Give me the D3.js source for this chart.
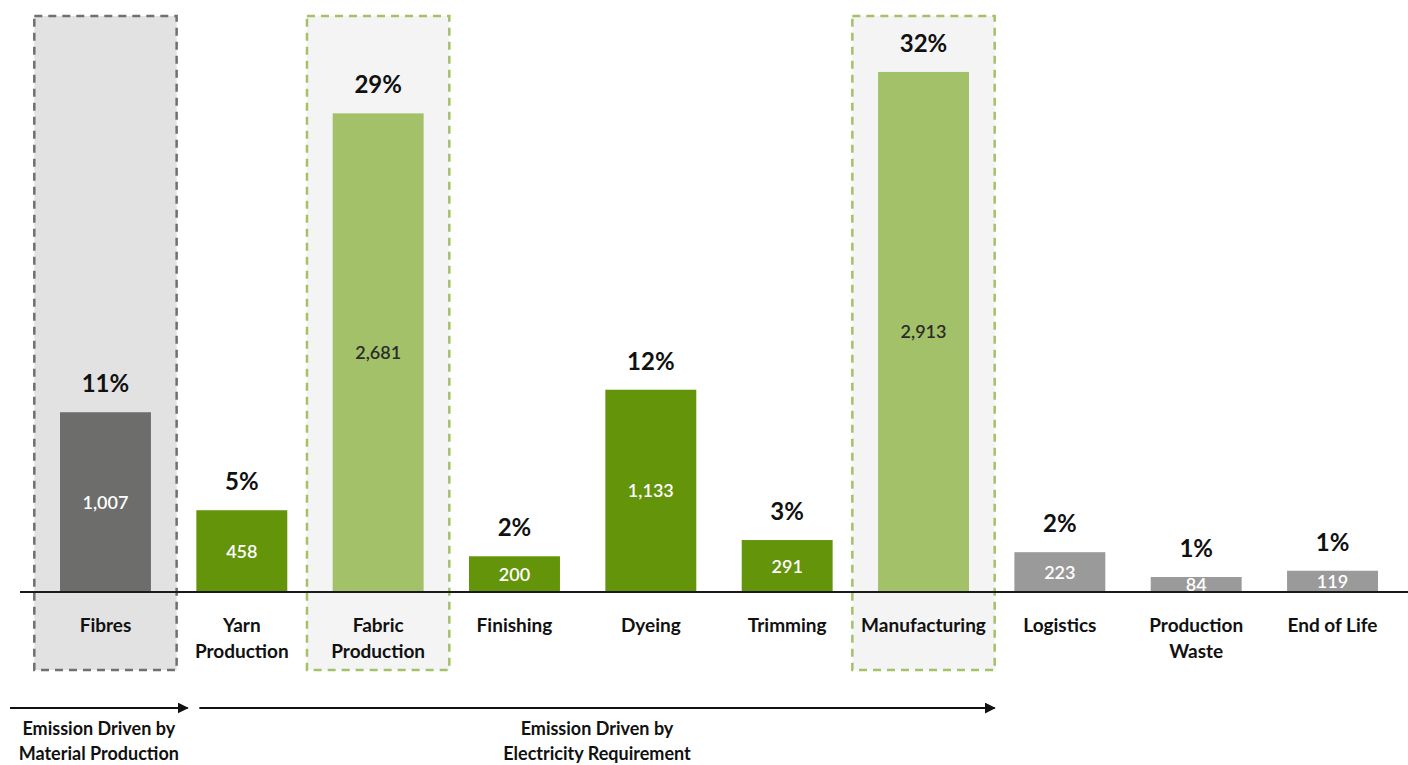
<!DOCTYPE html>
<html>
<head>
<meta charset="utf-8">
<script src="https://cdn.jsdelivr.net/npm/d3@7/dist/d3.min.js"></script>
<style>
  html, body { margin: 0; padding: 0; background: #ffffff; }
  svg { display: block; }
  text { font-family: "Lato", "Open Sans", sans-serif; }
</style>
</head>
<body>
<svg id="chart" width="1408" height="765"></svg>
<script>
// Lifecycle stages and their emissions
const categories = ["Fibres", "Yarn Production", "Fabric Production", "Finishing", "Dyeing",
                    "Trimming", "Manufacturing", "Logistics", "Production Waste", "End of Life"];
const labelLines = [["Fibres"], ["Yarn", "Production"], ["Fabric", "Production"], ["Finishing"], ["Dyeing"],
                    ["Trimming"], ["Manufacturing"], ["Logistics"], ["Production", "Waste"], ["End of Life"]];
const values = [1007, 458, 2681, 200, 1133, 291, 2913, 223, 84, 119];
const groups = ["material", "electric", "highlight", "electric", "electric",
                "electric", "highlight", "other", "other", "other"];
// Stages framed by a dashed box
const boxed = ["Fibres", "Fabric Production", "Manufacturing"];
// Driver brackets along the bottom
const drivers = [
  { from: "Fibres", to: "Fibres", lines: ["Emission Driven by", "Material Production"] },
  { from: "Yarn Production", to: "Manufacturing", lines: ["Emission Driven by", "Electricity Requirement"] }
];

const fillFor = { material: "#6d6d6b", electric: "#63940a", highlight: "#a3c168", other: "#9a9a9a" };
const valueColor = { material: "#ffffff", electric: "#ffffff", highlight: "#2b2b2b", other: "#ffffff" };

const svg = d3.select("#chart");
const baseY = 592;

const x = d3.scaleBand().domain(categories).range([60, 1378]).paddingInner(0.333).paddingOuter(0);
const y = d3.scaleLinear().domain([0, 3316]).range([baseY, 0]);
const total = d3.sum(values);
const step = x.step(), bw = x.bandwidth();
const gap = (step - bw) / 2;

const data = categories.map((c, i) => ({ c, v: values[i], g: groups[i], lines: labelLines[i] }));

// Highlight boxes
const boxG = svg.append("g");
boxed.forEach(c => {
  const isMat = c === "Fibres";
  boxG.append("rect")
    .attr("x", x(c) - gap - 3)
    .attr("y", 16)
    .attr("width", step + 6)
    .attr("height", 654)
    .attr("fill", isMat ? "#e2e2e2" : "#f4f4f4")
    .attr("stroke", isMat ? "#707070" : "#a3c168")
    .attr("stroke-width", 2.5)
    .attr("stroke-dasharray", "8,6");
});

// Bars
svg.append("g").selectAll("rect").data(data).join("rect")
  .attr("x", d => x(d.c))
  .attr("y", d => y(d.v))
  .attr("width", bw)
  .attr("height", d => baseY - y(d.v))
  .attr("fill", d => fillFor[d.g]);

// Value labels inside bars
svg.append("g").selectAll("text").data(data).join("text")
  .attr("x", d => x(d.c) + bw / 2)
  .attr("y", d => (y(d.v) + baseY) / 2)
  .attr("dy", "0.36em")
  .attr("text-anchor", "middle")
  .attr("font-size", 18)
  .attr("font-weight", 600)
  .attr("fill", d => valueColor[d.g])
  .text(d => d3.format(",")(d.v));

// Share labels above bars
svg.append("g").selectAll("text").data(data).join("text")
  .attr("x", d => x(d.c) + bw / 2)
  .attr("y", d => y(d.v) - 20)
  .attr("text-anchor", "middle")
  .attr("font-size", 24)
  .attr("font-weight", 700)
  .attr("fill", "#111")
  .text(d => Math.round(d.v / total * 100) + "%");

// Baseline
svg.append("line")
  .attr("x1", 20).attr("x2", 1408)
  .attr("y1", baseY).attr("y2", baseY)
  .attr("stroke", "#1a1a1a").attr("stroke-width", 2);

// Category labels
const catG = svg.append("g").selectAll("text").data(data).join("text")
  .attr("x", d => x(d.c) + bw / 2)
  .attr("y", 632)
  .attr("text-anchor", "middle")
  .attr("font-size", 19)
  .attr("font-weight", 700)
  .attr("fill", "#111");
catG.selectAll("tspan").data(d => d.lines.map(l => ({ l, x: x(d.c) + bw / 2 }))).join("tspan")
  .attr("x", t => t.x)
  .attr("dy", (t, i) => i === 0 ? 0 : 26)
  .text(t => t.l);

// Driver arrows
const defs = svg.append("defs");
defs.append("marker")
  .attr("id", "arrowHead")
  .attr("viewBox", "0 0 10 10")
  .attr("refX", 9).attr("refY", 5)
  .attr("markerWidth", 5.5).attr("markerHeight", 5.5)
  .attr("markerUnits", "strokeWidth")
  .attr("orient", "auto")
  .append("path").attr("d", "M0,0 L10,5 L0,10 Z").attr("fill", "#111");

const arrowY = 708;
const arrowSpans = [
  [10, x(drivers[0].to) + bw + gap + 14],
  [x(drivers[1].from) + 3, x(drivers[1].to) + bw + gap + 3]
];
drivers.forEach((dr, i) => {
  const [x0, x1] = arrowSpans[i];
  svg.append("line")
    .attr("x1", x0).attr("x2", x1)
    .attr("y1", arrowY).attr("y2", arrowY)
    .attr("stroke", "#111").attr("stroke-width", 2)
    .attr("marker-end", "url(#arrowHead)");
  const cx = (x0 + x1) / 2;
  const t = svg.append("text")
    .attr("x", cx)
    .attr("y", 735)
    .attr("text-anchor", "middle")
    .attr("font-size", 18)
    .attr("font-weight", 700)
    .attr("fill", "#111");
  dr.lines.forEach((l, j) => {
    t.append("tspan").attr("x", cx).attr("dy", j === 0 ? 0 : 25).text(l);
  });
});
</script>
</body>
</html>
